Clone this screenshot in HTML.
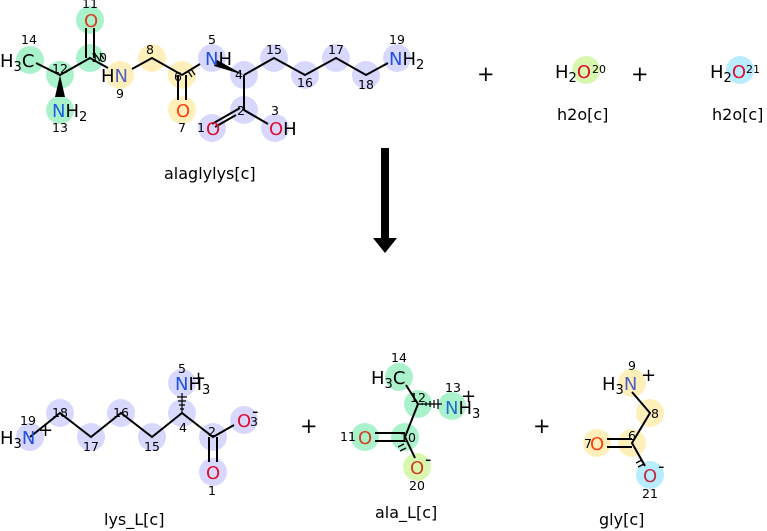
<!DOCTYPE html>
<html><head><meta charset="utf-8"><style>
body{margin:0;background:#fff}
svg{display:block;font-family:"DejaVu Sans","Liberation Sans",sans-serif}
.n{font-size:12.5px;fill:#000}
.a{font-size:18px}
.l{font-size:16px;fill:#000}
</style></head><body>
<svg width="767" height="531" viewBox="0 0 767 531" xmlns="http://www.w3.org/2000/svg">
<g fill="#aaf2cc">
<circle cx="30" cy="60" r="14"/><circle cx="60" cy="75" r="14"/><circle cx="60" cy="110" r="14"/><circle cx="90" cy="58" r="14"/><circle cx="90" cy="20" r="14"/>
<circle cx="399" cy="377" r="14"/><circle cx="418" cy="404" r="14"/><circle cx="452" cy="406" r="14"/><circle cx="405" cy="437" r="14"/><circle cx="365" cy="437" r="14"/>
</g>
<g fill="#fff0bb">
<circle cx="120" cy="75" r="14"/><circle cx="152" cy="58" r="14"/><circle cx="182" cy="75" r="14"/><circle cx="182" cy="110" r="14"/>
<circle cx="632" cy="383" r="14"/><circle cx="650" cy="413" r="14"/><circle cx="632" cy="443" r="14"/><circle cx="597" cy="443" r="14"/>
</g>
<g fill="#d8d8ff">
<circle cx="212" cy="58" r="14"/><circle cx="244" cy="75" r="14"/><circle cx="244" cy="110" r="14"/><circle cx="212" cy="128" r="14"/><circle cx="275" cy="128" r="14"/><circle cx="274" cy="58" r="14"/><circle cx="305" cy="75" r="14"/><circle cx="336" cy="58" r="14"/><circle cx="366" cy="75" r="14"/><circle cx="397" cy="58" r="14"/>
<circle cx="30" cy="437" r="14"/><circle cx="60" cy="413" r="14"/><circle cx="91" cy="437" r="14"/><circle cx="121" cy="413" r="14"/><circle cx="152" cy="437" r="14"/><circle cx="182" cy="413" r="14"/><circle cx="182" cy="383" r="14"/><circle cx="213" cy="437" r="14"/><circle cx="244" cy="420" r="14"/><circle cx="213" cy="472" r="14"/>
</g>
<circle cx="586" cy="70" r="14" fill="#d8f8b0"/><circle cx="417" cy="467" r="14" fill="#d8f8b0"/>
<circle cx="740" cy="70" r="14" fill="#b8ecff"/><circle cx="650" cy="475" r="14" fill="#b8ecff"/>

<g stroke="#000" stroke-width="2" fill="none">
<path d="M36 63L60 75L90 58L108 68M132 69L152 58L182 75L200 64M244 75L274 58L305 75L336 58L366 75L388 63M244 75V110L268 124M236 115L215 127M240 108L212 124"/>
<path d="M86 58V28M94 58V28M178 75V100M186 75V100"/>
<path d="M30 437L60 413L91 437L121 413L152 437L182 413L213 437L234 425M209 437V462M217 437V462"/>
<path d="M405 437L418 404M405 437L415 458M405 433H375M405 441H375M418 404L406 385"/>
<path d="M632 392L650 413L632 443L645 466M632 439H607M632 447H607"/>
</g>
<g stroke="#000" stroke-width="1.3"><path d="M96 55l4 6M100 53l4 6M188 71l4 6M191 69l4 6M398 447l6 -3M400 451l6-3M636 463l6-3M638 467l6-3"/></g>
<path d="M60 75L55 97H65Z" fill="#000"/>
<path d="M244 75L217 60L214 66Z" fill="#000"/>
<g stroke="#000" stroke-width="1.2"><path d="M182 413V393M180 409h4M179 405h6M178 401h8M177 397h10M418 404H442M422 403v2M426 402v4M430 401v6M434 400v8M438 399v10"/></g>

<g class="a">
<text x="0" y="67" fill="#000">H<tspan font-size="13" dy="4">3</tspan><tspan dy="-4">C</tspan></text>
<text x="52" y="117" fill="#2060e0">N<tspan fill="#000">H</tspan><tspan fill="#000" font-size="13" dy="4">2</tspan></text>
<text x="84" y="27" fill="#d04020">O</text>
<text x="101" y="82" fill="#000">H<tspan fill="#5060c0">N</tspan></text>
<text x="176" y="117" fill="#ff4010">O</text>
<text x="205" y="65" fill="#2050e0">N<tspan fill="#000">H</tspan></text>
<text x="206" y="135" fill="#e01030">O</text>
<text x="269" y="135" fill="#e01030">O<tspan fill="#000">H</tspan></text>
<text x="389" y="65" fill="#2050e0">N<tspan fill="#000">H</tspan><tspan fill="#000" font-size="13" dy="4">2</tspan></text>
<text x="555" y="78" fill="#000">H<tspan font-size="13" dy="4">2</tspan><tspan dy="-4" fill="#e01030">O</tspan></text>
<text x="710" y="78" fill="#000">H<tspan font-size="13" dy="4">2</tspan><tspan dy="-4" fill="#e01030">O</tspan></text>
<text x="0" y="444" fill="#000">H<tspan font-size="13" dy="4">3</tspan><tspan dy="-4" fill="#2050e0">N</tspan></text>
<text x="175" y="390" fill="#2050e0">N<tspan fill="#000">H</tspan><tspan fill="#000" font-size="13" dy="4">3</tspan></text>
<text x="237" y="427" fill="#e01030">O</text>
<text x="206" y="479" fill="#e01030">O</text>
<text x="371" y="384" fill="#000">H<tspan font-size="13" dy="4">3</tspan><tspan dy="-4">C</tspan></text>
<text x="445" y="414" fill="#2070d0">N<tspan fill="#000">H</tspan><tspan fill="#000" font-size="13" dy="4">3</tspan></text>
<text x="358" y="444" fill="#d04020">O</text>
<text x="410" y="474" fill="#d04020">O</text>
<text x="602" y="390" fill="#000">H<tspan font-size="13" dy="4">3</tspan><tspan dy="-4" fill="#5060c0">N</tspan></text>
<text x="590" y="450" fill="#ff4010">O</text>
<text x="643" y="482" fill="#c03040">O</text>
<text x="38" y="436" fill="#000">+</text><text x="191" y="384" fill="#000">+</text><text x="461" y="402" fill="#000">+</text><text x="641" y="381" fill="#000">+</text>
<text x="252" y="417" fill="#000">-</text><text x="425" y="465" fill="#000">-</text><text x="658" y="472" fill="#000">-</text>
</g>
<g class="n">
<text x="21" y="44">14</text><text x="52" y="73">12</text><text x="52" y="132">13</text><text x="82" y="8">11</text><text x="91" y="62">10</text><text x="116" y="98">9</text><text x="146" y="54">8</text><text x="174" y="81">6</text><text x="178" y="132">7</text><text x="208" y="44">5</text><text x="235" y="79">4</text><text x="237" y="115">2</text><text x="197" y="132">1</text><text x="271" y="115">3</text><text x="266" y="54">15</text><text x="297" y="87">16</text><text x="328" y="54">17</text><text x="358" y="89">18</text><text x="389" y="44">19</text>
<text x="592" y="73" font-size="11">20</text><text x="746" y="73" font-size="11">21</text>
<text x="20" y="425">19</text><text x="52" y="417">18</text><text x="83" y="451">17</text><text x="113" y="417">16</text><text x="144" y="451">15</text><text x="179" y="432">4</text><text x="178" y="373">5</text><text x="208" y="436">2</text><text x="250" y="426">3</text><text x="208" y="495">1</text>
<text x="391" y="362">14</text><text x="410" y="402">12</text><text x="445" y="392">13</text><text x="340" y="441">11</text><text x="400" y="442">10</text><text x="409" y="490">20</text>
<text x="628" y="370">9</text><text x="651" y="418">8</text><text x="628" y="440">6</text><text x="584" y="448">7</text><text x="642" y="498">21</text>
</g>
<g font-size="21" fill="#000"><text x="477" y="81">+</text><text x="631" y="81">+</text><text x="300" y="433">+</text><text x="533" y="433">+</text></g>
<text class="l" x="164" y="179">alaglylys[c]</text>
<text class="l" x="557" y="120">h2o[c]</text><text class="l" x="712" y="120">h2o[c]</text>
<text class="l" x="104" y="525">lys_L[c]</text><text class="l" x="375" y="518">ala_L[c]</text><text class="l" x="599" y="525">gly[c]</text>
<rect x="381" y="148" width="8" height="92" fill="#000"/>
<path d="M373 238H397L385 253Z" fill="#000"/>
</svg>
</body></html>
